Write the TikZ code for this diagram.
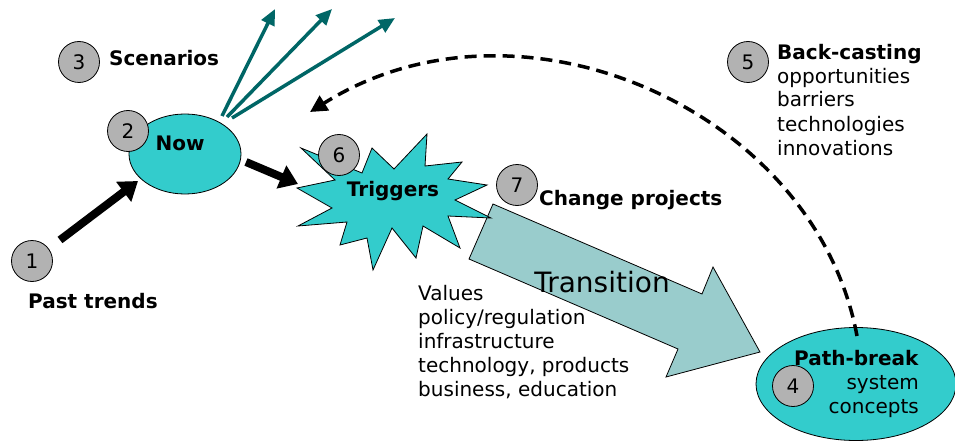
\documentclass[tikz,border=0pt]{standalone}
\usepackage{fontspec}
\setmainfont{DejaVu Sans}
\usetikzlibrary{arrows.meta}
\usetikzlibrary{shapes.geometric}

\definecolor{burst}{HTML}{33CCCC}
\definecolor{numgray}{HTML}{B2B2B2}
\definecolor{transfill}{HTML}{99CCCC}
\definecolor{scenteal}{HTML}{006666}

\tikzset{
  num/.style={circle, draw, line width=0.8pt, fill=numgray, minimum size=41pt, inner sep=0pt, font=\fontsize{20}{24}\selectfont},
  head/.style={inner sep=0pt, font=\fontsize{20}{24}\selectfont\bfseries},
  body/.style={inner sep=0pt, font=\fontsize{20}{24}\selectfont},
  blob/.style={ellipse, draw, line width=0.8pt, fill=burst, inner sep=0pt},
  push/.style={line width=8pt, -{Triangle[length=18pt,width=24pt]}},
  scen/.style={scenteal, line width=3.5pt, -{Triangle[length=16pt,width=14pt]}},
  backcast/.style={line width=3.5pt, dash pattern=on 12pt off 7pt, -{Triangle[length=17pt,width=17pt]}},
}

\begin{document}
\begin{tikzpicture}[x=1pt,y=-1pt]
    \useasboundingbox (0,0) rectangle (955,441);

    \coordinate (past) at (60,240);
    \coordinate (nowin) at (138,181);
    \coordinate (nowout) at (246,162);
    \coordinate (trigin) at (298,184);
    \coordinate (fa) at (222,116);
    \coordinate (fb) at (227,117);
    \coordinate (fc) at (232,118);
    \coordinate (ta) at (275,9);
    \coordinate (tb) at (332,9);
    \coordinate (tc) at (395,18);
    \coordinate (bcstart) at (857,336);
    \coordinate (bcend) at (310,112);

    % transition arrow
    \draw[fill=transfill, line width=0.8pt] (493,204) -- (702,294) -- (713,267) -- (760,352) -- (666,377) -- (678,349) -- (469,259) -- cycle;

    % triggers
    \draw[fill=burst, line width=0.8pt] (427,134) -- (425,166) -- (462,162) -- (448,179) -- (487,185) -- (455,200) -- (491,218) -- (448,216) -- (460,248) -- (423,226) -- (416,258) -- (392,228) -- (373,270) -- (367,238) -- (340,245) -- (347,222) -- (298,226) -- (332,208) -- (297,188) -- (335,180) -- (301,148) -- (362,173) -- (372,148) -- (394,169) -- cycle;

    \node[blob, minimum width=112pt, minimum height=80pt] (Now) at (185,154) {};
    \node[blob, minimum width=200pt, minimum height=113pt] (PB) at (856,384) {};

    \draw[push] (past) -- (nowin);
    \draw[push] (nowout) -- (trigin);

    \foreach \s/\t in {fa/ta, fb/tb, fc/tc}
        \draw[scen] (\s) -- (\t);

    \draw[backcast] (bcstart) .. controls (815,110) and (520,-20) .. (bcend);

    \node[num] (n1) at (32,261) {1};
    \node[num] (n2) at (128,131) {2};
    \node[num] (n3) at (79,62) {3};
    \node[num] (n4) at (793,386) {4};
    \node[num] (n5) at (748,62) {5};
    \node[num] (n6) at (339,155) {6};
    \node[num] (n7) at (517,185) {7};

    \node[head, anchor=base west] (scenlbl) at (109,66) {Scenarios};
    \node[head, anchor=base] (nowlbl) at (180,150) {Now};
    \node[head, anchor=base west] (pastlbl) at (28,308) {Past trends};
    \node[head, anchor=base] (triglbl) at (393,196) {Triggers};
    \node[head, anchor=base west] (projlbl) at (539,205) {Change projects};
    \node[body, anchor=base, font=\fontsize{28}{34}\selectfont] (translbl) at (602,292) {Transition};

    % base of a multi-line node = last line
    \node[body, anchor=base west, align=left] (bclbl) at (777,155) {\textbf{Back-casting}\\opportunities\\barriers\\technologies\\innovations};
    \node[body, anchor=base west, align=left] (vallbl) at (418,396) {Values\\policy/regulation\\infrastructure\\technology, products\\business, education};
    \node[body, anchor=base east, align=right] (pblbl) at (919,413) {\textbf{Path-break}\\system\\concepts};
\end{tikzpicture}
\end{document}
